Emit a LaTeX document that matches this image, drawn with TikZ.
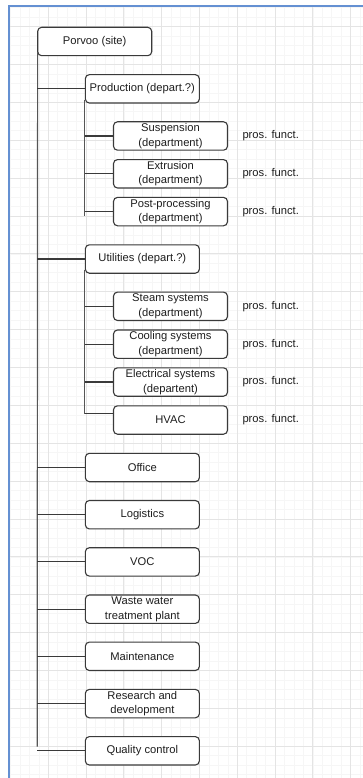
\documentclass[tikz,border=0pt]{standalone}
\usepackage{fontspec}
\setmainfont{Liberation Sans}
\begin{document}
\begin{tikzpicture}[x=1pt,y=-1pt,
  unitbox/.style={draw=boxline, line width=1.1pt, rounded corners=4pt, fill=white,
    minimum width=114pt, minimum height=28.4pt, inner sep=1pt, align=center,
    text=txt, font=\fontsize{11.2}{14.6}\selectfont},
  note/.style={anchor=west, inner sep=0pt, text=txt, font=\fontsize{11.2}{14.6}\selectfont},
  link/.style={draw=boxline, line width=1.1pt},
  trunk/.style={draw=trunkline, line width=1.2pt}]
\definecolor{boxline}{HTML}{3A3A3A}
\definecolor{trunkline}{HTML}{555555}
\definecolor{txt}{HTML}{1E1E1E}
\definecolor{frame}{HTML}{6490D2}
\definecolor{gridminor}{HTML}{F6F6F6}
\definecolor{gridmajor}{HTML}{E4E4E4}
\useasboundingbox (0,0) rectangle (363,778);
\fill[white] (0,0) rectangle (363,778);

% background grid: minor quarter lines, then major lines
\foreach \i in {-4,...,35} {
  \pgfmathsetmacro{\gx}{48.2+\i*37.8/4}
  \ifdim\gx pt>9pt \draw[gridminor, line width=0.5pt] (\gx,7) -- (\gx,778); \fi
}
\foreach \j in {-2,...,80} {
  \pgfmathsetmacro{\gy}{26.5+\j*37.88/4}
  \ifdim\gy pt>7pt \draw[gridminor, line width=0.5pt] (9,\gy) -- (363,\gy); \fi
}
\foreach \i in {0,...,8} {
  \draw[gridmajor, line width=0.7pt] ({48.2+\i*37.8},7) -- ({48.2+\i*37.8},778);
}
\foreach \j in {0,...,19} {
  \draw[gridmajor, line width=0.7pt] (9,{26.5+\j*37.88}) -- (363,{26.5+\j*37.88});
}
% page frame on the top and left
\draw[frame, line width=2pt] (8.7,778) -- (8.7,6.5) -- (363,6.5);

% site
\node[unitbox] (porvoo) at (94.7,41.5) {Porvoo (site)};

% production branch
\node[unitbox] (prod) at (142.35,88.85) {Production (depart.?)};
\node[unitbox] (susp) at (170.5,136) {Suspension\\(department)};
\node[unitbox] (extr) at (170.5,173.8) {Extrusion\\(department)};
\node[unitbox] (post) at (170.5,211.6) {Post-processing\\(department)};

% utilities branch
\node[unitbox] (util) at (142.35,259) {Utilities (depart.?)};
\node[unitbox] (steam) at (170.5,306.3) {Steam systems\\(department)};
\node[unitbox] (cool) at (170.5,344.2) {Cooling systems\\(department)};
\node[unitbox] (elec) at (170.5,382) {Electrical systems\\(departent)};
\node[unitbox] (hvac) at (170.5,420) {HVAC};

% other units
\node[unitbox] (office) at (142.35,467.5) {Office};
\node[unitbox] (logi) at (142.35,514.7) {Logistics};
\node[unitbox] (voc) at (142.35,561.9) {VOC};
\node[unitbox] (waste) at (142.35,609.2) {Waste water\\treatment plant};
\node[unitbox] (maint) at (142.35,656.3) {Maintenance};
\node[unitbox] (rnd) at (142.35,703.6) {Research and\\development};
\node[unitbox] (qc) at (142.35,750.8) {Quality control};

% process function notes
\node[note] (n1) at (242.3,136) {pros. funct.};
\node[note] (n2) at (242.3,173.8) {pros. funct.};
\node[note] (n3) at (242.3,211.4) {pros. funct.};
\node[note] (n4) at (242.3,306.3) {pros. funct.};
\node[note] (n5) at (242.3,344.2) {pros. funct.};
\node[note] (n6) at (242.3,382) {pros. funct.};
\node[note] (n7) at (242.3,419.4) {pros. funct.};

% trunk ends
\coordinate (mainend) at (porvoo.south west |- 0,746.7);
\coordinate (prodend) at (prod.south west |- 0,216);
\coordinate (utilend) at (util.south west |- 0,414.3);

% trunks
\draw[trunk] (porvoo.south west) ++(0.5,-4) -- (mainend);
\draw[trunk] (prod.south west) ++(0,-4) -- (prodend);
\draw[trunk] (util.south west) ++(0,-4) -- (utilend);

% connectors from the main trunk
\foreach \n in {prod,util,office,logi,voc,waste,maint,rnd,qc} {
  \draw[link] (mainend |- \n.west) -- (\n.west);
}
% connectors from the branch trunks
\foreach \n in {susp,extr,post} {
  \draw[link] (prodend |- \n.west) -- (\n.west);
}
\foreach \n in {steam,cool,elec} {
  \draw[link] (utilend |- \n.west) -- (\n.west);
}
\draw[link] (utilend |- 0,413.3) -- ([yshift=6.7pt]hvac.west);
\end{tikzpicture}
\end{document}
